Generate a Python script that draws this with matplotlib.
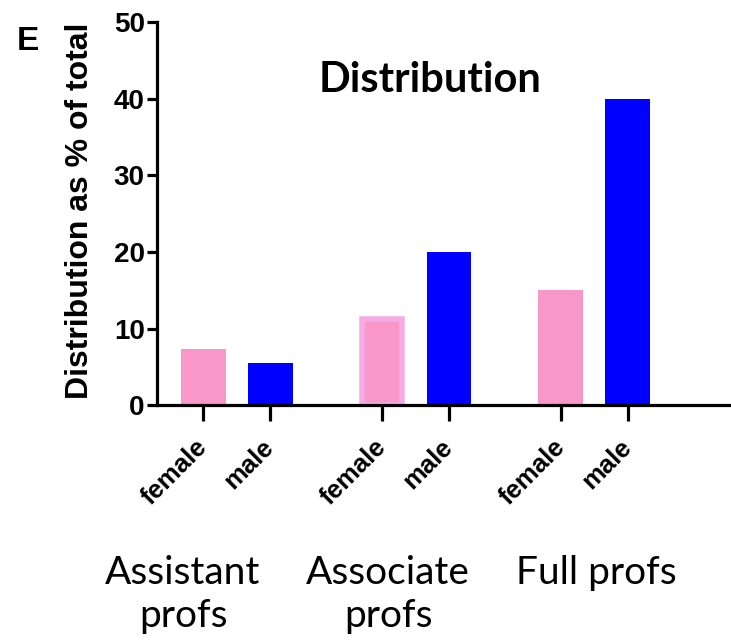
import matplotlib.pyplot as plt
import numpy as np

# data
groups = ["Assistant\nprofs", "Associate\nprofs", "Full profs"]
sexes = ["female", "male"]
female = [7.3, 11.2, 15.1]
male = [5.5, 20.0, 40.0]

pink = "#F898C8"
pink_edge = "#F6ABE6"
blue = "#0000FF"

fig = plt.figure(figsize=(7.31, 6.4), dpi=100)
ax = fig.add_axes([0.215, 0.367, 0.785, 0.598])

# female/male one unit apart, gap of 1.67 units between groups
step = 2.67
w = 0.67
xf = np.arange(len(groups)) * step
xm = xf + 1

bars_f = ax.bar(xf, female, w, color=pink, linewidth=0)
ax.bar(xm, male, w, color=blue, linewidth=0)

# associate female bar has a lighter rim in the original
rim = 4.0  # pt
rim_data = rim / 72 * 100 / 67
b = bars_f[1]
b.set_edgecolor(pink_edge)
b.set_linewidth(rim)
b.set_x(b.get_x() + rim_data / 2)
b.set_width(w - rim_data)

ax.set_xlim(-0.687, 7.88)
ax.set_ylim(0, 50)
ax.set_yticks(np.arange(0, 51, 10))

xt = np.ravel(np.column_stack([xf, xm]))
ax.set_xticks(xt)
ax.set_xticklabels(sexes * len(groups), rotation=45, ha="right",
                   va="center", rotation_mode="anchor",
                   fontsize=18.5, fontweight="bold", family="Liberation Sans")
for lab in ax.get_yticklabels():
    lab.set_fontsize(20)
    lab.set_fontweight("bold")
    lab.set_family("Liberation Sans")

for s in ["top", "right"]:
    ax.spines[s].set_visible(False)
for s in ["left", "bottom"]:
    ax.spines[s].set_linewidth(2.3)
ax.tick_params(axis="y", length=7, width=2.3, pad=2)
ax.tick_params(axis="x", length=11.5, width=2.3, pad=16)

fig.text(80 / 731, 1 - 211 / 640, "Distribution as % of total", rotation=90,
         ha="center", va="center", fontsize=23, fontweight="bold",
         family="Liberation Sans")
fig.text(28 / 731, 1 - 42 / 640, "E", ha="center", va="center",
         fontsize=24, fontweight="bold", family="Liberation Sans")
fig.text(430 / 731, 1 - 80 / 640, "Distribution", ha="center", va="center",
         fontsize=30, fontweight="bold", family="Lato")

for name, cx in zip(groups, [183, 388, 596]):
    fig.text(cx / 731, 1 - 555 / 640, name, ha="center", va="top",
             fontsize=28, family="Lato", linespacing=1.24,
             multialignment="center")

fig.savefig("out.png", dpi=100)
